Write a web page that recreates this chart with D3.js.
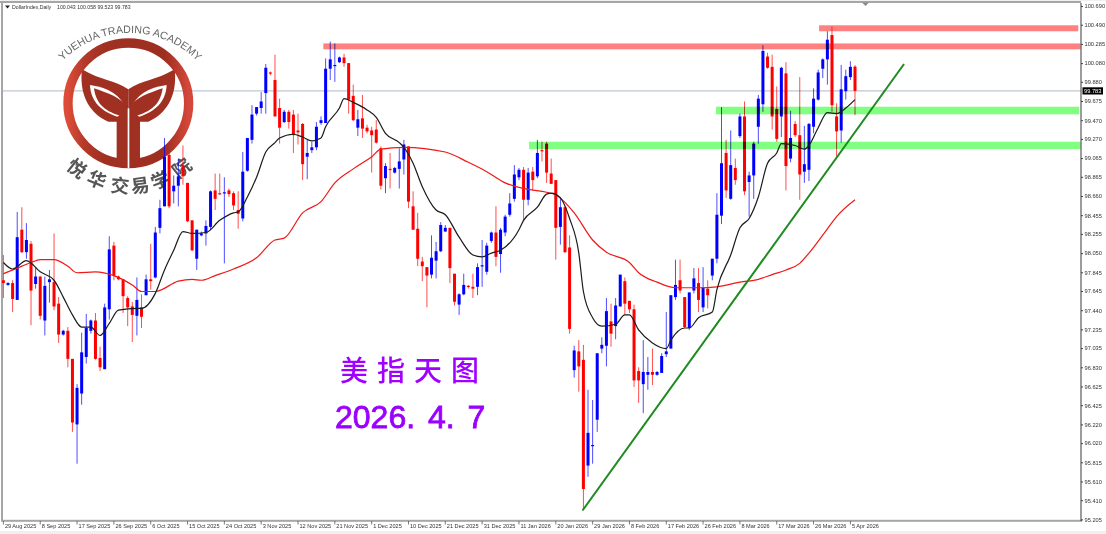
<!DOCTYPE html>
<html><head><meta charset="utf-8">
<script src="https://cdn.jsdelivr.net/npm/d3@7/dist/d3.min.js"></script>
<style>
html,body{margin:0;padding:0;background:#fff;overflow:hidden}
svg{display:block;filter:blur(0.3px)}
</style></head><body>
<script>
const open=[97.76,97.71,97.73,97.55,98.30,98.06,98.15,97.72,97.80,97.33,
97.74,97.74,97.51,97.18,97.22,96.92,96.22,96.55,96.94,97.22,
97.33,96.93,96.81,97.45,98.13,97.80,97.77,97.57,97.48,97.38,
97.47,97.60,97.77,97.79,98.32,98.55,99.10,98.71,98.77,98.99,
98.80,98.40,97.99,98.24,98.26,98.33,98.72,98.69,98.69,98.72,
98.69,98.51,98.42,98.93,99.26,99.54,99.60,99.76,99.98,99.90,
99.60,99.45,99.56,99.53,99.36,99.43,99.08,99.15,99.18,99.44,
99.44,100.02,100.05,100.09,100.14,100.08,99.73,99.39,99.49,99.39,
99.36,99.37,99.17,98.85,98.95,98.91,98.95,99.05,99.19,98.55,
98.31,97.96,97.90,97.82,97.97,98.07,98.28,98.32,97.83,97.50,
97.61,97.70,97.69,97.69,97.91,97.85,98.18,98.27,98.04,98.27,
98.46,98.63,98.86,98.94,98.62,98.92,98.87,99.15,99.22,98.90,
98.83,98.33,98.54,98.11,96.80,97.00,96.91,95.78,95.99,96.27,
97.03,97.06,97.32,97.27,97.48,97.75,97.54,97.45,96.79,96.65,
96.75,96.78,96.75,96.77,96.97,97.03,97.58,97.76,97.58,97.25,
97.65,97.73,97.47,97.67,97.81,97.99,98.45,99.12,98.63,98.96,
99.30,99.51,98.81,98.88,99.40,99.64,100.15,100.04,99.59,99.51,
99.97,99.06,99.43,99.31,98.92,98.94,99.40,99.69,100.02,100.12,
100.38,99.51,99.36,99.78,99.93,100.043];
const high=[98.03,97.74,97.76,98.49,98.54,98.37,98.18,97.90,97.80,97.80,
97.87,98.26,97.58,97.23,97.26,96.92,96.65,97.20,97.40,97.34,
97.41,97.05,97.51,98.23,98.17,97.81,97.77,97.59,97.53,97.79,
97.61,97.82,98.15,98.33,98.62,99.28,99.12,98.88,99.06,99.20,
98.80,98.40,98.30,98.28,98.40,98.72,98.90,98.90,98.86,98.74,
98.71,98.71,99.13,99.28,99.63,99.61,99.77,100.07,99.99,100.17,
99.70,99.58,99.58,99.58,99.54,99.44,99.26,99.24,99.45,99.51,
100.13,100.31,100.29,100.15,100.18,100.08,99.85,99.58,99.74,99.42,
99.40,99.47,99.19,99.01,99.12,98.97,99.17,99.26,99.19,98.71,
98.48,98.01,97.90,98.24,98.17,98.38,98.35,98.32,97.83,97.62,
97.83,97.71,97.83,97.94,98.19,98.16,98.28,98.55,98.32,98.46,
98.69,98.99,98.96,98.97,98.96,98.97,99.26,99.24,99.24,99.06,
98.83,98.65,98.55,98.24,97.06,97.12,97.07,96.59,96.48,96.98,
97.15,97.57,97.51,97.57,97.82,97.79,97.54,97.50,96.83,97.12,
96.94,97.03,96.79,96.98,97.42,97.60,97.98,97.98,97.58,97.63,
97.89,97.89,97.90,97.76,97.99,98.69,99.61,99.26,99.36,99.06,
99.54,99.67,98.92,99.24,99.74,100.27,100.19,100.17,99.83,100.04,
100.09,99.57,99.46,99.93,99.41,99.44,99.81,100.01,100.13,100.42,
100.47,99.65,100.06,100.01,100.10,100.058];
const low=[97.57,97.70,97.42,97.55,98.05,97.99,97.28,97.67,97.34,97.17,
97.52,97.44,97.09,97.17,96.83,96.14,95.80,96.43,96.87,97.19,
96.91,96.79,96.81,97.34,97.76,97.76,97.41,97.27,97.10,97.17,
97.25,97.60,97.66,97.78,98.26,98.55,98.53,98.58,98.55,98.78,
98.38,98.07,97.87,98.23,98.13,98.30,98.51,98.67,97.94,98.65,
98.51,98.31,98.39,98.92,99.22,99.52,99.54,99.54,99.95,99.51,
99.22,99.44,99.38,99.12,99.21,98.83,98.84,99.12,99.15,99.42,
99.44,99.90,99.88,100.08,100.04,99.54,99.46,99.30,99.28,99.33,
98.91,99.22,98.73,98.69,98.74,98.90,98.74,98.89,98.53,98.30,
97.91,97.75,97.47,97.78,97.78,98.06,98.28,97.73,97.49,97.39,
97.60,97.67,97.57,97.60,97.69,97.82,98.16,97.91,97.84,98.23,
98.44,98.60,98.83,98.40,98.56,98.72,98.85,99.03,98.80,98.79,
97.98,98.14,98.05,97.19,96.72,96.57,95.31,95.66,95.80,96.14,
96.98,96.84,97.05,97.13,97.48,97.39,97.41,96.62,96.45,96.34,
96.59,96.64,96.74,96.77,96.94,97.03,97.55,97.62,97.25,97.23,
97.62,97.42,97.42,97.46,97.76,97.94,98.36,98.64,98.62,98.78,
99.28,98.67,98.44,98.63,99.22,99.56,100.02,99.37,99.24,99.29,
98.72,99.02,99.29,98.62,98.80,98.82,99.33,99.68,99.92,99.85,
99.56,99.08,99.23,99.69,99.90,99.523];
const close=[97.73,97.73,97.56,98.22,98.06,98.19,97.65,97.80,97.38,97.70,
97.77,97.48,97.18,97.22,96.92,96.24,96.61,96.99,97.25,97.33,
96.92,96.83,97.47,98.09,97.81,97.77,97.59,97.47,97.39,97.55,
97.37,97.77,97.75,98.27,98.53,99.08,98.55,98.77,98.87,98.87,
98.39,98.08,98.30,98.26,98.34,98.71,98.63,98.68,98.70,98.68,
98.56,98.47,98.92,99.28,99.53,99.61,99.67,100.03,99.97,99.51,
99.39,99.56,99.45,99.31,99.34,99.00,99.12,99.18,99.40,99.47,
100.02,100.12,100.06,100.14,100.08,99.69,99.47,99.48,99.38,99.35,
99.31,99.23,98.77,98.98,98.94,98.96,99.03,99.21,98.60,98.30,
97.99,97.91,97.81,98.00,98.07,98.35,98.32,97.89,97.53,97.61,
97.71,97.69,97.67,97.90,97.92,98.13,98.27,98.01,98.30,98.44,
98.58,98.89,98.94,98.62,98.91,98.83,99.12,99.14,98.91,98.79,
98.32,98.54,98.06,97.24,97.01,96.84,95.53,96.13,96.00,96.98,
97.07,97.43,97.19,97.49,97.82,97.51,97.45,96.69,96.69,96.78,
96.78,96.75,96.78,96.95,97.00,97.60,97.71,97.65,97.26,97.63,
97.78,97.55,97.68,97.60,97.99,98.46,99.01,98.72,98.99,98.83,
99.51,98.71,98.88,99.22,99.70,100.21,100.03,99.51,99.27,100.03,
98.98,99.28,99.31,98.89,99.00,99.43,99.70,99.98,100.12,100.33,
99.63,99.35,99.80,99.94,100.04,99.783];

const fastMaBars=[0,2,5,8,11,13,15,17,19,21,23,25,29,30,33,35,37,39,41,44,47,50,51,53,55,57,59,60,63,65,67,69,70,73,74,76,79,81,83,86,87,89,91,94,96,99,102,104,106,108,112,113,116,118,119,121,123,125,126,128,130,133,135,136,138,141,144,145,148,149,151,154,155,158,160,162,164,166,168,169,172,174,175,177,179,181,183,185];
const fastMaValues=[97.95,97.88,97.97,97.85,97.76,97.58,97.39,97.26,97.26,97.17,97.30,97.44,97.46,97.46,97.62,97.87,98.08,98.28,98.26,98.27,98.40,98.48,98.49,98.65,98.86,99.13,99.23,99.28,99.32,99.29,99.25,99.28,99.40,99.60,99.70,99.66,99.58,99.50,99.33,99.23,99.18,99.01,98.76,98.51,98.46,98.22,98.03,98.01,98.05,98.08,98.30,98.40,98.54,98.68,98.69,98.64,98.42,98.05,97.64,97.36,97.27,97.29,97.39,97.39,97.23,97.09,97.03,97.12,97.25,97.25,97.36,97.42,97.66,98.03,98.32,98.42,98.65,99.01,99.12,99.22,99.20,99.16,99.20,99.39,99.55,99.54,99.60,99.69];
const slowMaBars=[0,3,6,8,11,14,16,20,24,28,30,33,38,41,43,46,50,55,59,61,65,69,72,76,80,82,87,96,101,105,109,114,118,120,124,128,131,136,138,142,146,151,155,160,164,167,170,173,175,179,181,185];
const slowMaValues=[97.83,97.89,97.95,97.98,97.98,97.91,97.84,97.85,97.81,97.71,97.64,97.64,97.75,97.77,97.76,97.81,97.88,98.00,98.19,98.21,98.48,98.60,98.80,98.95,99.08,99.16,99.18,99.13,99.02,98.92,98.80,98.73,98.70,98.67,98.48,98.19,98.06,97.95,97.84,97.74,97.68,97.68,97.69,97.74,97.77,97.82,97.87,97.94,98.05,98.31,98.44,98.62];

const priceTicks=[100.690,100.490,100.285,100.080,99.880,99.675,99.470,99.270,99.065,98.865,98.660,98.455,98.255,98.050,97.845,97.645,97.440,97.235,97.035,96.830,96.625,96.425,96.220,96.020,95.815,95.610,95.410,95.205];
const dateLabels=["29 Aug 2025","8 Sep 2025","17 Sep 2025","26 Sep 2025","6 Oct 2025","15 Oct 2025","24 Oct 2025","3 Nov 2025","12 Nov 2025","21 Nov 2025","1 Dec 2025","10 Dec 2025","21 Dec 2025","31 Dec 2025","11 Jan 2026","20 Jan 2026","29 Jan 2026","8 Feb 2026","17 Feb 2026","26 Feb 2026","8 Mar 2026","17 Mar 2026","26 Mar 2026","5 Apr 2026"];
const dateBars=dateLabels.map((_,i)=>i*8);

const zoneStart=[177.2,69.5,154.8,114.2];
const zoneEnd=[233.5,234,233.7,234];
const zoneTop=[100.484,100.29,99.614,99.24];
const zoneBottom=[100.42,100.227,99.533,99.162];
const zoneColor=["#ff8080","#ff8080","#80ff80","#80ff80"];
const trendBars=[125.8,195.65];
const trendPrices=[95.30,100.07];
const lastPrice=99.783;

const W=1106,H=534;
const x=d3.scaleLinear().domain([0,185]).range([3.4,855]);
const y=d3.scaleLinear().domain([95.205,100.69]).range([519.4,6]);
const svg=d3.select("body").append("svg").attr("width",W).attr("height",H).attr("viewBox",`0 0 ${W} ${H}`);
svg.append("rect").attr("width",W).attr("height",H).attr("fill","#fff");
svg.append("rect").attr("y",531).attr("width",W).attr("height",3).attr("fill","#f0f0f0");

// frame
svg.append("rect").attr("x",0).attr("y",0).attr("width",W).attr("height",1).attr("fill","#f0f0f0");
svg.append("rect").attr("x",0).attr("y",1).attr("width",1081).attr("height",2).attr("fill","#a6a6a6");
svg.append("rect").attr("x",1).attr("y",1).attr("width",2).attr("height",520).attr("fill","#a6a6a6");
svg.append("rect").attr("x",1).attr("y",519.8).attr("width",1081).attr("height",2).attr("fill","#a6a6a6");

// last price line
svg.append("line").attr("x1",3).attr("x2",1081).attr("y1",y(lastPrice)).attr("y2",y(lastPrice)).attr("stroke","#c0c6d0").attr("stroke-width",1.2);

// logo (zoom coordinates scaled 1/3)
const defs=svg.append("defs");
const grad=defs.append("linearGradient").attr("id","ring").attr("x1","0").attr("x2","1").attr("y1","0").attr("y2","0");
[[0,"#dc4c38"],[0.13,"#b53a2a"],[0.3,"#a03022"],[0.8,"#9e2e20"],[1,"#d4483a"]].forEach(s=>grad.append("stop").attr("offset",s[0]).attr("stop-color",s[1]));
const logo=svg.append("g").attr("transform","scale(0.3333)");
logo.append("circle").attr("cx",385).attr("cy",310).attr("r",181).attr("fill","none").attr("stroke","url(#ring)").attr("stroke-width",28);
function lobe(g){
  g.append("path").attr("fill","#a03022").attr("d","M250,210 C300,240 345,240 385,268 L385,500 C368,502 355,490 350,475 L350,365 L325,365 C270,340 240,290 245,215 Z");
  g.append("path").attr("fill","#fff").attr("d","M270,255 C325,262 362,285 380,330 L352,350 C305,335 272,305 270,255 Z");
  g.append("path").attr("fill","#a03022").attr("d","M282,265 C325,280 362,292 382,322 L382,355 L345,342 C315,330 288,312 282,265 Z");
}
lobe(logo.append("g"));
lobe(logo.append("g").attr("transform","translate(770,0) scale(-1,1)"));
logo.append("rect").attr("x",383).attr("y",325).attr("width",5).attr("height",180).attr("fill","#fff");
defs.append("path").attr("id","arcTop").attr("d","M188,182 A285,285 0 0 1 612,206");
logo.append("text").attr("font-family","'Liberation Sans',sans-serif").attr("font-size",32).attr("fill","#666").style("white-space","pre")
  .append("textPath").attr("href","#arcTop").attr("startOffset","0%").text("YUEHUA TRADING ACADEMY");
const cnChars="悦华交易学院".split("");
const cnAngle=[-38,-22.4,-6,7.5,21.5,38.5];
cnChars.forEach((c,i)=>{
  const a=cnAngle[i]*Math.PI/180,R=254,cx=387,cy=304;
  const px=cx+R*Math.sin(a),py=cy+R*Math.cos(a);
  logo.append("text").attr("transform",`translate(${px},${py}) rotate(${-cnAngle[i]})`)
    .attr("text-anchor","middle").attr("dy","0.38em").attr("font-family","'Noto Sans CJK SC'").attr("font-weight",700).attr("font-size",56).attr("fill","#555").text(c);
});

// candles
const bars=d3.range(open.length).map(i=>({i,o:open[i],h:high[i],l:low[i],c:close[i]}));
const col=d=>d.c>=d.o?"#0000ff":"#ff0000";
const cg=svg.append("g");
cg.selectAll("line").data(bars).join("line")
  .attr("x1",d=>x(d.i)).attr("x2",d=>x(d.i)).attr("y1",d=>y(d.h)).attr("y2",d=>y(d.l))
  .attr("stroke",col).attr("stroke-width",0.7);
cg.selectAll("rect").data(bars).join("rect")
  .attr("x",d=>x(d.i)-1.5).attr("width",3)
  .attr("y",d=>y(Math.max(d.o,d.c)))
  .attr("height",d=>Math.max(1.2,Math.abs(y(d.o)-y(d.c))))
  .attr("fill",col);

// zones
svg.append("g").selectAll("rect").data(zoneStart).join("rect")
  .attr("x",(d,i)=>x(d)).attr("width",(d,i)=>x(zoneEnd[i])-x(d))
  .attr("y",(d,i)=>y(zoneTop[i])).attr("height",(d,i)=>y(zoneBottom[i])-y(zoneTop[i]))
  .attr("fill",(d,i)=>zoneColor[i]).style("mix-blend-mode","multiply");

// moving averages
const line=d3.line().x(d=>x(d[0])).y(d=>y(d[1])).curve(d3.curveMonotoneX);
svg.append("path").attr("d",line(d3.zip(slowMaBars,slowMaValues))).attr("fill","none").attr("stroke","#f01818").attr("stroke-width",1.2);
svg.append("path").attr("d",line(d3.zip(fastMaBars,fastMaValues))).attr("fill","none").attr("stroke","#1c1c1c").attr("stroke-width",1.2);

// trend line
svg.append("path").attr("d",d3.line().x(d=>x(d[0])).y(d=>y(d[1]))(d3.zip(trendBars,trendPrices))).attr("fill","none").attr("stroke","#1f8a1f").attr("stroke-width",2);

// axes
const font="'Liberation Sans',sans-serif";
const ya=svg.append("g").attr("transform","translate(1081,0)")
  .call(d3.axisRight(y).tickValues(priceTicks).tickFormat(d3.format(".3f")).tickSize(2).tickPadding(1.5));
ya.select(".domain").remove();
ya.selectAll("text").attr("font-family",font).attr("font-size",5.7).attr("fill","#333");
ya.selectAll("line").attr("stroke","#444");
svg.append("rect").attr("x",1080.5).attr("y",3).attr("width",1).attr("height",518).attr("fill","#3a3a3a");

const xa=svg.append("g").attr("transform","translate(0,523)")
  .call(d3.axisBottom(x).tickValues(dateBars).tickFormat((d,i)=>dateLabels[i]).tickSize(0).tickPadding(0));
xa.select(".domain").remove();
xa.selectAll("text").attr("font-family",font).attr("font-size",5.6).attr("fill","#333").attr("text-anchor","start").attr("x",1).attr("y",5.2).attr("dy",0);
svg.append("g").selectAll("line").data(dateBars).join("line")
  .attr("x1",d=>x(d)).attr("x2",d=>x(d)).attr("y1",521).attr("y2",524.5).attr("stroke","#444").attr("stroke-width",0.7);

// current price box
svg.append("rect").attr("x",1082.5).attr("y",y(lastPrice)-3.6).attr("width",20.5).attr("height",7.2).attr("fill","#000");
svg.append("text").attr("x",1084).attr("y",y(lastPrice)+2).attr("font-family",font).attr("font-size",5.7).attr("fill","#fff").text(d3.format(".3f")(lastPrice));

// header
svg.append("path").attr("d","M5,5.5 L10,5.5 L7.5,8.5 Z").attr("fill","#222");
svg.append("text").attr("x",12).attr("y",9.4).attr("font-family",font).attr("font-size",5.2).attr("fill","#333").text("DollarIndex,Daily");
svg.append("text").attr("x",57).attr("y",9.4).attr("font-family",font).attr("font-size",5.2).attr("fill","#333").text("100.043 100.058 99.523 99.783");
svg.append("path").attr("d","M862,2.5 L869,2.5 L865.5,6 Z").attr("fill","#8a8a8a");

// captions
svg.append("text").attr("x",340).attr("y",381).attr("font-family","'Noto Sans CJK SC'").attr("font-weight",500).attr("font-size",28).attr("letter-spacing",9).attr("fill","#a000ff").text("美指天图");
svg.append("text").attr("x",335).attr("y",428).attr("font-family",font).attr("font-size",32).attr("fill","#9a00ff").attr("stroke","#9a00ff").attr("stroke-width",0.8).attr("word-spacing",4).style("white-space","pre").text("2026. 4. 7");
</script>
</body></html>
